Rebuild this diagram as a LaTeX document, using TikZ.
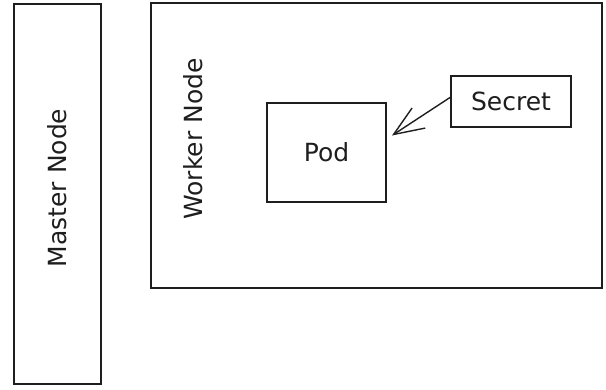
\documentclass[tikz,border=0pt]{standalone}
\usepackage{fontspec}
\setmainfont{DejaVu Sans}
\usetikzlibrary{arrows.meta,positioning}
\definecolor{ink}{HTML}{1E1E1E}

\begin{document}
\begin{tikzpicture}[x=1pt,y=-1pt,
  box/.style={draw=ink,line width=2pt,inner sep=0pt},
  lbl/.style={font=\fontsize{25}{30}\selectfont,text=ink,inner sep=0pt},
  arr/.style={-{Straight Barb[length=30pt,width=24pt]},draw=ink,line width=1.4pt}
]
\useasboundingbox (0,0) rectangle (606,389);
% the two cluster nodes
\node[box,minimum width=87pt,minimum height=380pt] (master) at (57.5,194) {};
\node[lbl,rotate=90] (mastertxt) at (57,188) {Master Node};
\node[box,minimum width=451pt,minimum height=285pt] (worker) at (376.5,145.5) {};
\node[lbl,rotate=90] (workertxt) at (193,139) {Worker Node};
% inside the worker
\node[box,lbl,minimum width=119pt,minimum height=99pt] (pod) at (326.5,152.5) {Pod};
\node[box,lbl,minimum width=120pt,minimum height=51pt] (secret) at (511,101.5) {Secret};
\draw[arr] ([yshift=4pt]secret.west) -- ([yshift=17pt,xshift=5pt]pod.east);
\end{tikzpicture}
\end{document}
